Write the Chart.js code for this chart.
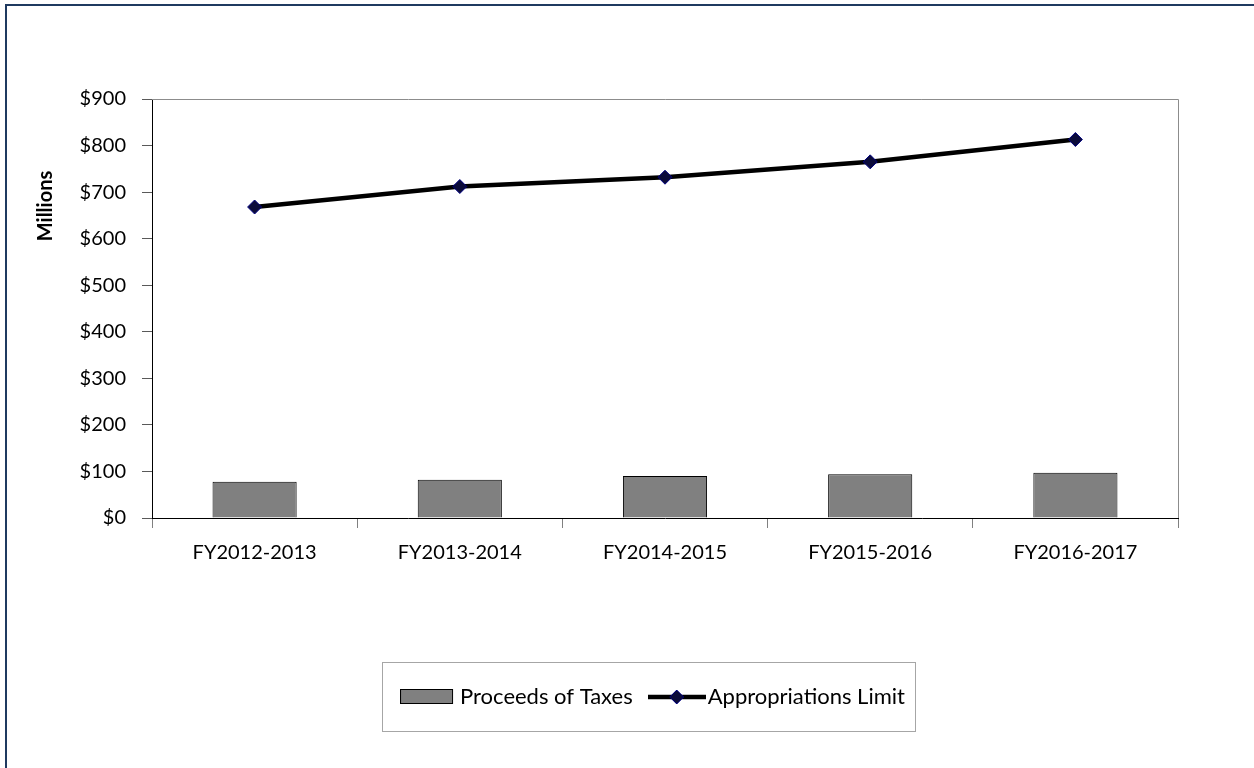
<!DOCTYPE html>
<html>
<head>
<meta charset="utf-8">
<script src="https://cdn.jsdelivr.net/npm/chart.js@4.4.1/dist/chart.umd.min.js"></script>
<style>
  html, body { margin: 0; padding: 0; background: #fff; overflow: hidden; }
  #frame { position: absolute; left: 5px; top: 4px; right: 0; bottom: 0; border-top: 2px solid #1f3a60; border-left: 2px solid #1f3a60; }
  #wrap { position: absolute; left: 0; top: 0; width: 1254px; height: 768px; }
</style>
</head>
<body>
<div id="frame"></div>
<div id="wrap"><canvas id="chart"></canvas></div>
<script>
// fiscal years and amounts ($ millions)
const fiscalYears = ['FY2012-2013', 'FY2013-2014', 'FY2014-2015', 'FY2015-2016', 'FY2016-2017'];
const proceedsOfTaxes = [78, 82, 90, 94, 97];
const appropriationsLimit = [668, 712, 732, 765, 813];
const yMin = 0;
const yMax = 900;
const yStep = 100;

const FONT = 'Lato';

// legend keys drawn on small canvases so the line key shows line + diamond
function makeBarKey() {
    let c = document.createElement('canvas');
    c.width = 58; c.height = 16;
    let g = c.getContext('2d');
    g.fillStyle = '#808080';
    g.fillRect(0.5, 0.5, 52, 14);
    g.strokeStyle = '#000';
    g.lineWidth = 1;
    g.strokeRect(0.5, 0.5, 52, 14);
    return c;
}

function makeLineKey() {
    let c = document.createElement('canvas');
    c.width = 58; c.height = 16;
    let g = c.getContext('2d');
    g.strokeStyle = '#000';
    g.lineWidth = 4.5;
    g.beginPath();
    g.moveTo(0, 8);
    g.lineTo(58, 8);
    g.stroke();
    g.fillStyle = '#0b0b3a';
    g.strokeStyle = '#000080';
    g.lineWidth = 1;
    g.beginPath();
    g.moveTo(29 - 7, 8);
    g.lineTo(29, 1);
    g.lineTo(29 + 7, 8);
    g.lineTo(29, 15);
    g.closePath();
    g.fill();
    g.stroke();
    return c;
}

// keyed by dataset index
const legendKeys = [makeBarKey(), makeLineKey()];

// plot border, legend box and the rotated axis caption
const extras = {
    id: 'extras',
    afterDraw(chart) {
        let ctx = chart.ctx;
        let a = chart.chartArea;
        ctx.save();
        ctx.strokeStyle = '#8c8c8c';
        ctx.lineWidth = 1;
        ctx.beginPath();
        ctx.moveTo(a.left, a.top + 0.5);
        ctx.lineTo(a.right + 0.5, a.top + 0.5);
        ctx.lineTo(a.right + 0.5, a.bottom);
        ctx.stroke();

        let hb = chart.legend.legendHitBoxes;
        if (hb && hb.length) {
            let first = hb[0];
            let last = hb[hb.length - 1];
            let left = first.left - 27;
            let right = last.left + last.width + 10;
            let top = first.top - 24;
            let bottom = first.top + 45;
            ctx.strokeStyle = '#a6a6a6';
            ctx.strokeRect(Math.round(left) + 0.5, Math.round(top) + 0.5, Math.round(right - left), Math.round(bottom - top));
        }

        ctx.translate(46, 206);
        ctx.rotate(-Math.PI / 2);
        ctx.font = 'bold 20px ' + FONT;
        ctx.fillStyle = '#000';
        ctx.textAlign = 'center';
        ctx.textBaseline = 'middle';
        ctx.fillText('Millions', 0, 0);
        ctx.restore();
    }
};

let ctx = document.getElementById('chart').getContext('2d');
let myChart = new Chart(ctx, {
    type: 'bar',
    data: {
        labels: fiscalYears,
        datasets: [
            {
                label: 'Proceeds of Taxes',
                data: proceedsOfTaxes,
                backgroundColor: '#808080',
                borderColor: '#000000',
                borderWidth: 1,
                barPercentage: 0.41,
                categoryPercentage: 1.0,
                order: 1
            },
            {
                type: 'line',
                label: 'Appropriations Limit',
                data: appropriationsLimit,
                borderColor: '#000000',
                borderWidth: 4.5,
                pointStyle: 'rectRot',
                pointRadius: 7,
                pointHoverRadius: 7,
                pointBackgroundColor: '#0b0b3a',
                pointBorderColor: '#000080',
                pointBorderWidth: 1,
                tension: 0,
                order: 0
            }
        ]
    },
    options: {
        responsive: true,
        maintainAspectRatio: false,
        animation: false,
        layout: {
            padding: { left: 60, right: 0, top: 99, bottom: 50 }
        },
        scales: {
            x: {
                offset: true,
                grid: {
                    offset: true,
                    drawOnChartArea: false,
                    drawTicks: true,
                    tickLength: 10,
                    color: '#808080'
                },
                border: { color: '#000000', width: 1 },
                ticks: {
                    color: '#000',
                    padding: 13,
                    maxRotation: 0,
                    font: { family: FONT, size: 20 }
                },
                afterFit(scale) {
                    scale.height = 144;
                    scale.paddingRight = 76;
                }
            },
            y: {
                min: yMin,
                max: yMax,
                grid: {
                    drawOnChartArea: false,
                    drawTicks: true,
                    tickLength: 10,
                    color: '#595959'
                },
                border: { color: '#000000', width: 1 },
                ticks: {
                    stepSize: yStep,
                    color: '#000',
                    padding: 16,
                    font: { family: FONT, size: 20 },
                    callback: function(v) {
                        return '$' + v;
                    }
                },
                afterFit(scale) {
                    scale.width = 92;
                }
            }
        },
        plugins: {
            title: { display: false },
            tooltip: { enabled: false },
            legend: {
                position: 'bottom',
                labels: {
                    usePointStyle: true,
                    pointStyleWidth: 40,
                    padding: 24,
                    color: '#000',
                    font: { family: FONT, size: 22 },
                    sort: function(a, b) {
                        return a.datasetIndex - b.datasetIndex;
                    },
                    generateLabels: function(chart) {
                        let items = Chart.defaults.plugins.legend.labels.generateLabels(chart);
                        items.forEach(function(item) {
                            item.pointStyle = legendKeys[item.datasetIndex];
                        });
                        return items;
                    }
                }
            }
        }
    },
    plugins: [extras]
});
</script>
</body>
</html>
